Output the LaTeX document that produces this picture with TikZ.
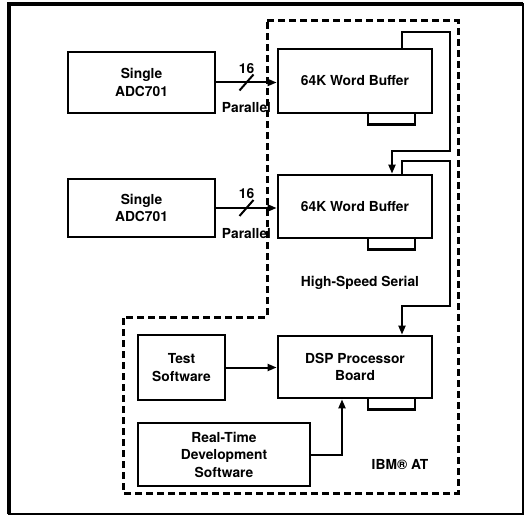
\documentclass[tikz,border=0pt]{standalone}
\usepackage{fontspec}
\setmainfont{TeX Gyre Heros}
\usepackage{tikz}
\usetikzlibrary{arrows.meta,positioning}

\begin{document}
\begin{tikzpicture}[x=1pt,y=-1pt,>={Stealth[length=9pt,width=7pt,inset=0pt]},
  blk/.style={draw,line width=2.8pt,align=center,font=\fontsize{13.8}{17.5}\selectfont\bfseries},
  lbl/.style={inner sep=2pt,font=\fontsize{13.8}{16}\selectfont\bfseries},
  link/.style={line width=2pt},
  bound/.style={line width=3pt,dash pattern=on 7pt off 4pt}]
\useasboundingbox(0,0)rectangle(525,516);
\draw[line width=2pt](9,4)rectangle(523,514);
\draw[line width=3.2pt](9,514)--(9,4)--(523,4);
\draw[bound](267,21)--(458,21)--(458,493)--(123,493)--(123,317)--(267,317)--cycle;
% blocks
\node[blk,minimum width=147pt,minimum height=61pt](adc1)at(141.5,82.5){Single\\ADC701};
\node[blk,minimum width=147pt,minimum height=58pt](adc2)at(141.5,208){Single\\ADC701};
\node[blk,minimum width=154pt,minimum height=64pt](buf1)at(355,81){64K Word Buffer};
\node[blk,minimum width=154pt,minimum height=63pt](buf2)at(355,206.5){64K Word Buffer};
\node[blk,minimum width=154pt,minimum height=62pt](dsp)at(355,367){DSP Processor\\Board};
\node[blk,minimum width=87pt,minimum height=65pt](test)at(181.5,367.5){Test\\Software};
\node[blk,minimum width=172pt,minimum height=63pt,text depth=0pt](rt)at(224,454.5){Real-Time\\Development\\Software};
\foreach \c in {buf1,buf2,dsp}
\draw[line width=2.8pt,line join=miter]([xshift=13pt]\c.south)--++(0,10)--++(47,0)--++(0,-10);
% parallel links
\draw[link,->](adc1.east)--coordinate[pos=.5](s1)(adc1.east-|buf1.west);
\draw[link](s1)++(-7,8)--++(14,-16);
\node[lbl,above=7pt of s1](w1){16};
\node[lbl,below=18pt of s1](p1){Parallel};
\draw[link,->](adc2.east)--coordinate[pos=.5](s2)(adc2.east-|buf2.west);
\draw[link](s2)++(-7,8)--++(14,-16);
\node[lbl,above=7pt of s2](w2){16};
\node[lbl,below=18pt of s2](p2){Parallel};
% serial chain
\draw[link,->]([xshift=47pt]buf1.north)--++(0,-16)--++(48,0)--++(0,119)--++(-58,0)--([xshift=37pt]buf2.north);
\draw[link,->]([xshift=47pt]buf2.north)--++(0,-13)--++(48,0)--++(0,145)--++(-48,0)--([xshift=47pt]dsp.north);
\draw[link,->](test.east)--(test.east-|dsp.west);
\draw[link,->](rt.east)-|([xshift=-13pt]dsp.south);
\node[lbl](hs)at(360,283){High-Speed Serial};
\node[lbl](ibm)at(400,465){IBM\textregistered{} AT};
\end{tikzpicture}
\end{document}
